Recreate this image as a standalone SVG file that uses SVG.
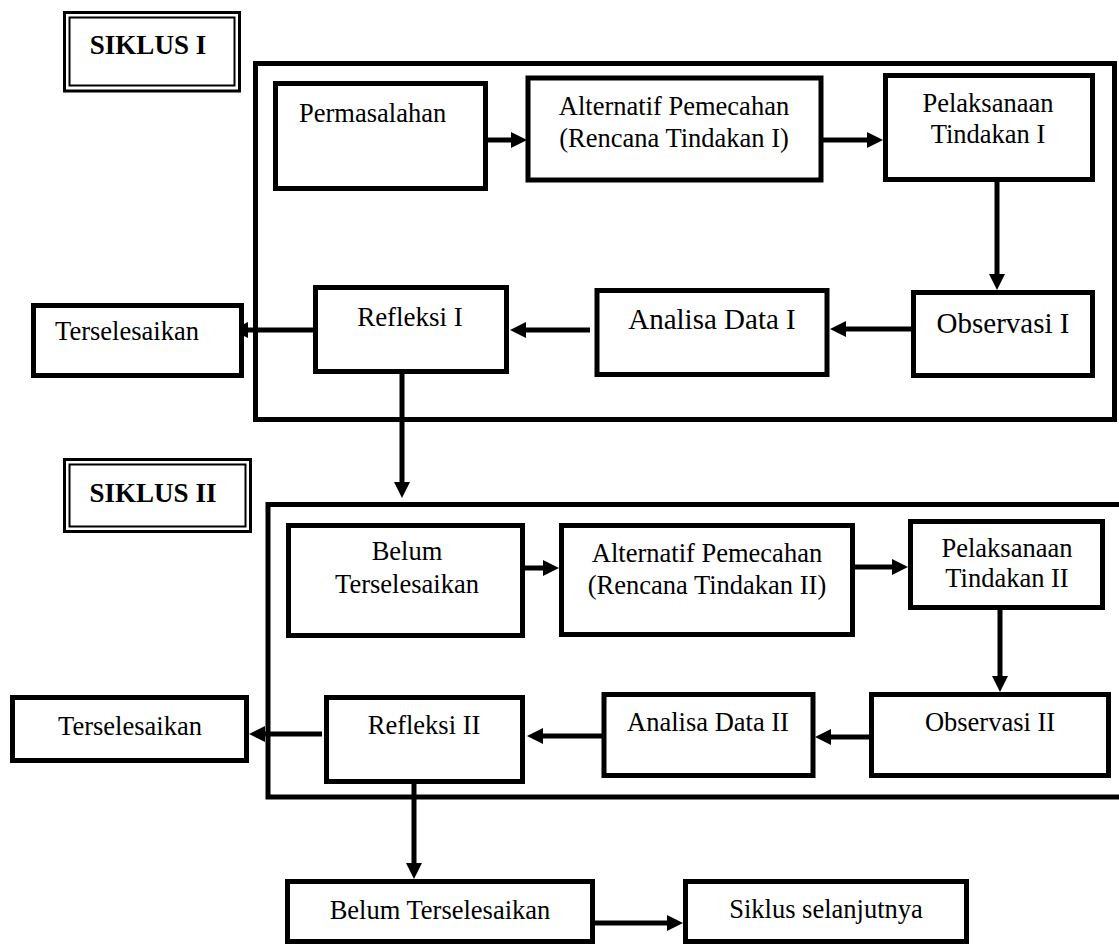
<svg xmlns="http://www.w3.org/2000/svg" width="1119" height="945" viewBox="0 0 1119 945">
<style>
.box{fill:#fff;stroke:#000;stroke-width:5}
.frame{fill:none;stroke:#000;stroke-width:5}
.dbl1{fill:#fff;stroke:#000;stroke-width:3}
.dbl2{fill:none;stroke:#000;stroke-width:2}
.t{font-family:"Liberation Serif","Times New Roman",serif;font-size:26.5px;fill:#000;text-anchor:middle}
.big{font-size:29px}
.lbl{font-family:"Liberation Serif","Times New Roman",serif;font-size:27px;font-weight:bold;fill:#000;text-anchor:middle}
.c{stroke:#000;stroke-width:5;fill:none;marker-end:url(#ah)}
</style>
<defs>
<marker id="ah" viewBox="0 0 16 16" markerWidth="16" markerHeight="16" markerUnits="userSpaceOnUse" refX="6" refY="8" orient="auto">
<path d="M0,0 L16,8 L0,16 z" fill="#000"/>
</marker>
</defs>
<rect x="0" y="0" width="1119" height="945" fill="#fff"/>

<g id="frame1"><rect class="frame" x="255.5" y="63.5" width="859" height="356"/></g>
<g id="frame2"><rect class="frame" x="268" y="504.5" width="900" height="292.5"/></g>

<g id="siklus1">
<rect class="dbl1" x="64.5" y="12.5" width="175" height="78.5"/>
<rect class="dbl2" x="69.5" y="17.5" width="165" height="68"/>
<text class="lbl" x="148" y="54">SIKLUS I</text>
</g>
<g id="siklus2">
<rect class="dbl1" x="64.5" y="459.5" width="186" height="72"/>
<rect class="dbl2" x="69.5" y="464.5" width="176" height="62"/>
<text class="lbl" x="153" y="502">SIKLUS II</text>
</g>

<g id="connectors">
<line class="c" x1="488" y1="140" x2="517" y2="140"/>
<line class="c" x1="821" y1="140" x2="873" y2="140"/>
<line class="c" x1="997" y1="180" x2="997" y2="280"/>
<line class="c" x1="911" y1="329" x2="840" y2="329"/>
<line class="c" x1="590" y1="330" x2="520" y2="330"/>
<line class="c" x1="313" y1="330" x2="242" y2="330"/>
<line class="c" x1="402" y1="374" x2="402" y2="488"/>
<line class="c" x1="525" y1="568" x2="549" y2="568"/>
<line class="c" x1="855" y1="567" x2="898" y2="567"/>
<line class="c" x1="1000" y1="610" x2="1000" y2="682"/>
<line class="c" x1="869" y1="737" x2="825" y2="737"/>
<line class="c" x1="602" y1="736" x2="537" y2="736"/>
<line class="c" x1="322" y1="734" x2="259" y2="734"/>
<line class="c" x1="414" y1="777" x2="414" y2="869"/>
<line class="c" x1="595" y1="923" x2="673" y2="923"/>
</g>

<g id="permasalahan">
<rect class="box" x="275.5" y="83.5" width="210" height="105"/>
<text class="t" x="299" y="122" style="text-anchor:start">Permasalahan</text>
</g>
<g id="alternatif1">
<rect class="box" x="528" y="78" width="293" height="102"/>
<text class="t" x="674" y="115">Alternatif Pemecahan</text>
<text class="t" x="674" y="147">(Rencana Tindakan I)</text>
</g>
<g id="pelaksanaan1">
<rect class="box" x="885.5" y="75.5" width="207" height="104"/>
<text class="t" x="988" y="112">Pelaksanaan</text>
<text class="t" x="988" y="143">Tindakan I</text>
</g>
<g id="observasi1">
<rect class="box" x="913.5" y="292.5" width="179" height="83"/>
<text class="t big" x="1003" y="333">Observasi I</text>
</g>
<g id="analisa1">
<rect class="box" x="597" y="290.5" width="230" height="84"/>
<text class="t big" x="712" y="329">Analisa Data I</text>
</g>
<g id="refleksi1">
<rect class="box" x="315.5" y="287.5" width="191" height="84"/>
<text class="t" x="410" y="326" style="font-size:27px">Refleksi I</text>
</g>
<g id="terselesaikan1">
<rect class="box" x="33.5" y="305.5" width="208" height="70"/>
<text class="t" x="127" y="340">Terselesaikan</text>
</g>

<g id="belum1">
<rect class="box" x="288.5" y="525.5" width="234" height="110"/>
<text class="t" x="407" y="560">Belum</text>
<text class="t" x="407" y="593">Terselesaikan</text>
</g>
<g id="alternatif2">
<rect class="box" x="561.5" y="525.5" width="291" height="109"/>
<text class="t" x="707" y="562">Alternatif Pemecahan</text>
<text class="t" x="707" y="594">(Rencana Tindakan II)</text>
</g>
<g id="pelaksanaan2">
<rect class="box" x="910.5" y="521.5" width="192" height="86"/>
<text class="t" x="1007" y="557">Pelaksanaan</text>
<text class="t" x="1007" y="587">Tindakan II</text>
</g>
<g id="observasi2">
<rect class="box" x="871.5" y="694.5" width="237" height="81"/>
<text class="t" x="990" y="731">Observasi II</text>
</g>
<g id="analisa2">
<rect class="box" x="604" y="694.5" width="209" height="81"/>
<text class="t" x="708" y="731">Analisa Data II</text>
</g>
<g id="refleksi2">
<rect class="box" x="326.5" y="697.5" width="196" height="84"/>
<text class="t" x="424" y="734">Refleksi II</text>
</g>
<g id="terselesaikan2">
<rect class="box" x="12.5" y="697.5" width="234" height="63"/>
<text class="t" x="130" y="735">Terselesaikan</text>
</g>
<g id="belum2">
<rect class="box" x="287.5" y="881.5" width="305" height="60"/>
<text class="t" x="440" y="919">Belum Terselesaikan</text>
</g>
<g id="selanjutnya">
<rect class="box" x="685.5" y="881.5" width="281" height="60"/>
<text class="t" x="826" y="918">Siklus selanjutnya</text>
</g>
</svg>
